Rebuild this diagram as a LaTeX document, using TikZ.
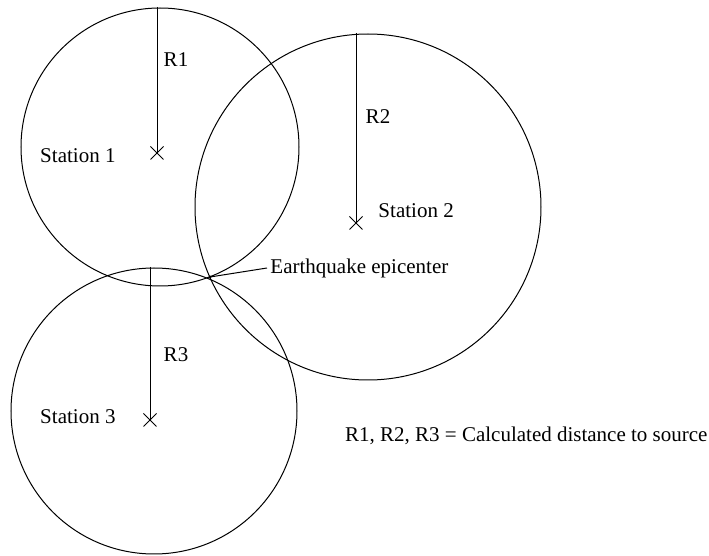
\documentclass[tikz,border=0pt]{standalone}
\usepackage{fontspec}
\setmainfont{Liberation Serif}
\usepackage{tikz}
\usetikzlibrary{shapes.misc}
\usetikzlibrary{positioning}

\begin{document}
\begin{tikzpicture}[
  x=0.5pt, y=-0.5pt,
  every path/.style={line width=0.5pt},
  every node/.style={font=\fontsize{10.5}{12}\selectfont, inner sep=0pt},
  station/.style={cross out, draw, minimum size=6pt, line width=0.5pt},
  ring/.style={draw},
]
\useasboundingbox (0,0) rectangle (709,556);

% Circle centres and stations
\coordinate (c1) at (160,147);
\coordinate (c2) at (368,207);
\coordinate (c3) at (154,411);
\node[station] (s1) at (157,153) {};
\node[station] (s2) at (356,223) {};
\node[station] (s3) at (150,420) {};

% Tops of the radius lines
\coordinate (t1) at (157,7);
\coordinate (t2) at (356,33);
\coordinate (t3) at (150,267);

% Circles
\draw[ring] (c1) circle[radius=69.5pt];
\draw[ring] (c2) circle[radius=86.5pt];
\draw[ring] (c3) circle[radius=71.5pt];

% Radii
\draw (t1) -- (s1.center);
\draw (t2) -- (s2.center);
\draw (t3) -- (s3.center);

% Labels
\node (r1) at (176,60)  {R1};
\node (r2) at (378,117) {R2};
\node (r3) at (176,355) {R3};
\node[anchor=east] (n1) at (116,156) {Station 1};
\node[anchor=west] (n2) at (378,211) {Station 2};
\node[anchor=east] (n3) at (116,417) {Station 3};

% Epicenter
\node[circle, fill, minimum size=1.6pt] (epi) at (210,277) {};
\node[anchor=west] (quake) at (270,268) {Earthquake epicenter};
\draw (quake.west) ++(-3,0) coordinate (qk) (qk) -- (epi.center);

% Legend
\node[anchor=east] (key) at (708,436) {R1, R2, R3 = Calculated distance to source};

\end{tikzpicture}
\end{document}
